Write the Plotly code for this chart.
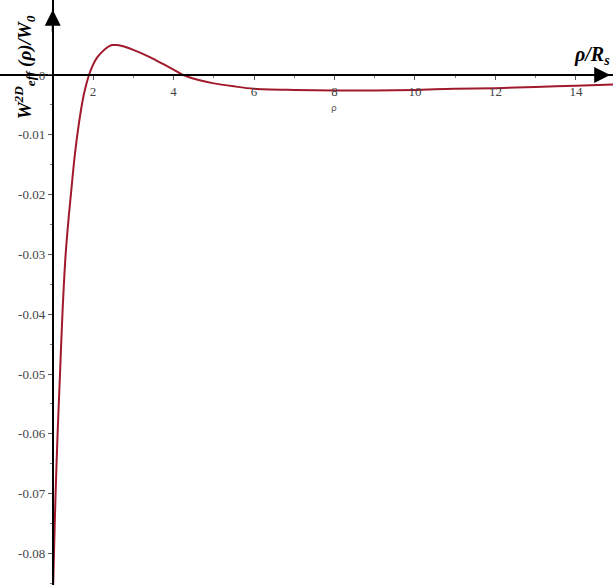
import plotly.graph_objects as go

rho = [1.01, 1.03, 1.07, 1.12, 1.18, 1.24, 1.32, 1.40, 1.45, 1.53, 1.61, 1.70, 1.78, 1.90,
       2.00, 2.10, 2.20, 2.35, 2.47, 2.60, 2.75, 3.00, 3.25, 3.50, 3.75, 4.00, 4.24, 4.60,
       5.00, 5.50, 6.00, 7.00, 8.00, 9.00, 10.0, 11.0, 12.0, 13.0, 14.0, 14.92]
W = [-0.0853, -0.0800, -0.0700, -0.0600, -0.0500, -0.0400, -0.0300, -0.0235, -0.0200,
     -0.0145, -0.0100, -0.0059, -0.0030, 0.0, 0.0017, 0.0029, 0.0037, 0.0046, 0.0050,
     0.0050, 0.0048, 0.0042, 0.0035, 0.0027, 0.0018, 0.0009, 0.0, -0.0008, -0.0014,
     -0.0019, -0.0023, -0.0025, -0.0026, -0.0026, -0.0025, -0.0023, -0.0022, -0.0020,
     -0.0018, -0.0016]

x_ticks = [2, 4, 6, 8, 10, 12, 14]
y_ticks = [0, -0.01, -0.02, -0.03, -0.04, -0.05, -0.06, -0.07, -0.08]
y_tick_labels = ["0", "-0.01", "-0.02", "-0.03", "-0.04", "-0.05", "-0.06", "-0.07", "-0.08"]

x_range = [-0.311, 14.92]
y_range = [-0.08528, 0.01254]

fig = go.Figure()
fig.add_trace(go.Scatter(x=rho, y=W, mode="lines",
                         line=dict(color="#a01a2c", width=2, shape="spline", smoothing=0.8),
                         hoverinfo="skip", showlegend=False))

x_pos = (0 - y_range[0]) / (y_range[1] - y_range[0])
y_pos = (1 - x_range[0]) / (x_range[1] - x_range[0])

tickfont = dict(family="Liberation Serif, Times New Roman, serif", size=13, color="#444")

fig.update_layout(
    width=613, height=585,
    margin=dict(l=0, r=0, t=0, b=0),
    paper_bgcolor="white", plot_bgcolor="white",
    xaxis=dict(range=x_range, domain=[0, 1], anchor="free", position=x_pos,
               showgrid=False, zeroline=False, showline=True, linecolor="black", linewidth=2,
               tickvals=x_ticks, ticks="outside", ticklen=4, tickcolor="#555", tickwidth=1,
               tickfont=tickfont, automargin=False,
               minor=dict(tickvals=[3, 5, 7, 9, 11, 13], ticks="outside", ticklen=2, tickcolor="#777")),
    yaxis=dict(range=y_range, domain=[0, 1], anchor="free", position=y_pos,
               showgrid=False, zeroline=False, showline=True, linecolor="black", linewidth=2,
               tickvals=y_ticks, ticktext=y_tick_labels, ticks="outside", ticklen=4, tickcolor="#555",
               tickwidth=1, tickfont=tickfont, automargin=False,
               minor=dict(tickvals=[-0.005, -0.015, -0.025, -0.035, -0.045, -0.055, -0.065, -0.075, -0.085],
                          ticks="outside", ticklen=2, tickcolor="#777")),
)

# axis arrows
fig.add_annotation(x=14.85, y=0, ax=14.0, ay=0, xref="x", yref="y", axref="x", ayref="y",
                   showarrow=True, arrowhead=2, arrowsize=1.6, arrowwidth=2, arrowcolor="black", text="")
fig.add_annotation(x=1, y=0.0109, ax=1, ay=0.007, xref="x", yref="y", axref="x", ayref="y",
                   showarrow=True, arrowhead=2, arrowsize=1.6, arrowwidth=2, arrowcolor="black", text="")

# axis labels
fig.add_annotation(x=8, y=-0.0055, xref="x", yref="y", text="ρ", showarrow=False,
                   font=dict(family="DejaVu Sans, sans-serif", size=9, color="#555"))
fig.add_annotation(x=0.999, y=0.0032, xref="paper", yref="y", xanchor="right",
                   text="<b><i>ρ/R<sub>s</sub></i></b>", showarrow=False,
                   font=dict(family="Liberation Serif, Times New Roman, serif", size=20, color="black"))
fig.add_annotation(x=0.04, y=0.0012, xref="paper", yref="y", textangle=-90, yanchor="middle",
                   xanchor="center",
                   text="<b><i>W<sup>2D</sup><sub>eff</sub> (ρ)/W<sub>0</sub></i></b>", showarrow=False,
                   font=dict(family="Liberation Serif, Times New Roman, serif", size=19, color="black"))

fig.write_html("out.html")
